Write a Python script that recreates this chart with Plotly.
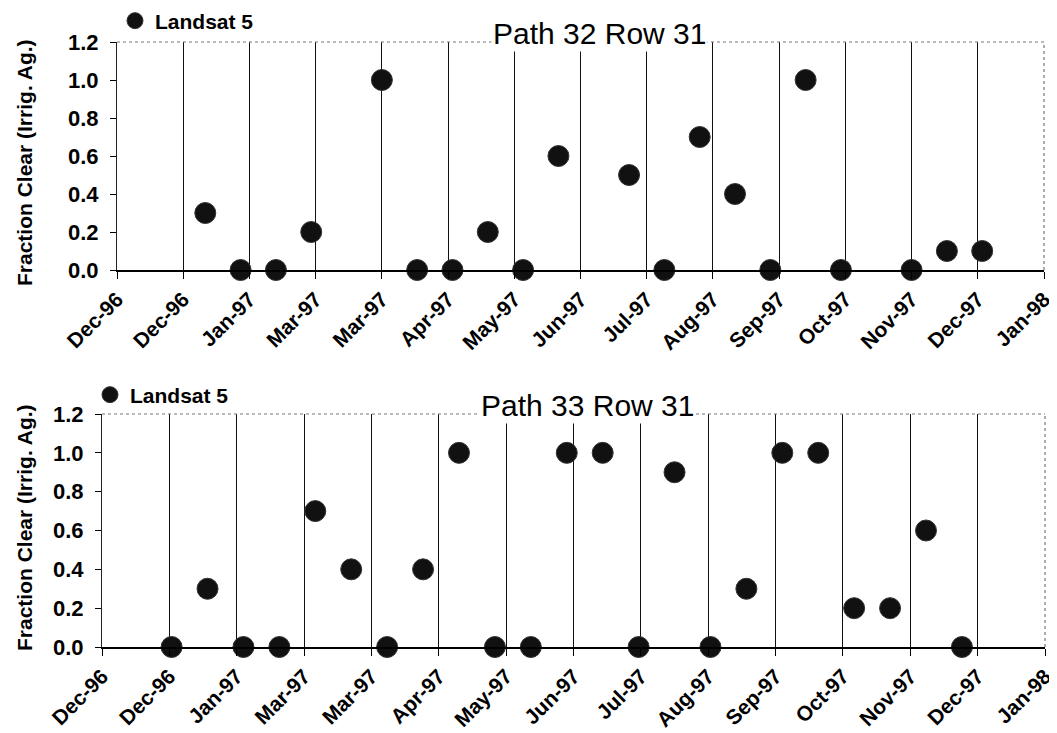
import plotly.graph_objects as go

# ---- data ----
tick_dates = ["1996-12-01", "1996-12-31", "1997-01-30", "1997-03-01", "1997-03-31",
              "1997-04-30", "1997-05-30", "1997-06-29", "1997-07-29", "1997-08-28",
              "1997-09-27", "1997-10-27", "1997-11-26", "1997-12-26", "1998-01-25"]
tick_labels = ["Dec-96", "Dec-96", "Jan-97", "Mar-97", "Mar-97", "Apr-97", "May-97",
               "Jun-97", "Jul-97", "Aug-97", "Sep-97", "Oct-97", "Nov-97", "Dec-97", "Jan-98"]
y_ticks = [0.0, 0.2, 0.4, 0.6, 0.8, 1.0, 1.2]

p32_dates = ["1997-01-10", "1997-01-26", "1997-02-11", "1997-02-27", "1997-03-31",
             "1997-04-16", "1997-05-02", "1997-05-18", "1997-06-03", "1997-06-19",
             "1997-07-21", "1997-08-06", "1997-08-22", "1997-09-07", "1997-09-23",
             "1997-10-09", "1997-10-25", "1997-11-26", "1997-12-12", "1997-12-28"]
p32_frac = [0.3, 0.0, 0.0, 0.2, 1.0, 0.0, 0.0, 0.2, 0.0, 0.6,
            0.5, 0.0, 0.7, 0.4, 0.0, 1.0, 0.0, 0.0, 0.1, 0.1]

p33_dates = ["1997-01-01", "1997-01-17", "1997-02-02", "1997-02-18", "1997-03-06",
             "1997-03-22", "1997-04-07", "1997-04-23", "1997-05-09", "1997-05-25",
             "1997-06-10", "1997-06-26", "1997-07-12", "1997-07-28", "1997-08-13",
             "1997-08-29", "1997-09-14", "1997-09-30", "1997-10-16", "1997-11-01",
             "1997-11-17", "1997-12-03", "1997-12-19"]
p33_frac = [0.0, 0.3, 0.0, 0.0, 0.7, 0.4, 0.0, 0.4, 1.0, 0.0, 0.0, 1.0,
            1.0, 0.0, 0.9, 0.0, 0.3, 1.0, 1.0, 0.2, 0.2, 0.6, 0.0]

titles = ["Path 32 Row 31", "Path 33 Row 31"]
series_name = "Landsat 5"
y_title = "Fraction Clear (Irrig. Ag.)"

# page has an 8px body margin; figure fills the rest of the 1057x733 window
OFF = 8
W, H = 1057 - OFF, 733 - OFF
FONT = "Arial, Liberation Sans, sans-serif"

fig = go.Figure()
marker = dict(size=21, color="#111111", line=dict(width=1, color="#333333"))
fig.add_trace(go.Scatter(x=p32_dates, y=p32_frac, mode="markers", name=series_name,
                         marker=marker, cliponaxis=False, xaxis="x", yaxis="y",
                         legend="legend"))
fig.add_trace(go.Scatter(x=p33_dates, y=p33_frac, mode="markers", name=series_name,
                         marker=marker, cliponaxis=False, xaxis="x2", yaxis="y2",
                         legend="legend2"))

def px_x(v):
    return (v - OFF) / W

def px_y(v):
    return 1 - (v - OFF) / H

# plot areas in window pixels: (left, right, top, bottom)
areas = [(117, 1044, 42, 270), (102, 1045, 414, 647)]

common_x = dict(type="date", range=[tick_dates[0], tick_dates[-1]], automargin=False,
                tickmode="array", tickvals=tick_dates, ticktext=tick_labels,
                tickangle=-45, ticks="outside", ticklen=7, tickcolor="black",
                showline=True, linecolor="black", linewidth=1.5,
                showgrid=True, gridcolor="#111111", gridwidth=1.3,
                zeroline=False,
                tickfont=dict(family=FONT, size=21, color="black", weight="bold"))
common_y = dict(range=[0, 1.2], tickmode="array", tickvals=y_ticks, automargin=False,
                ticktext=[f"{v:.1f}" for v in y_ticks],
                ticks="outside", ticklen=6, tickcolor="black",
                showline=True, linecolor="#222222", linewidth=1.2,
                showgrid=False, zeroline=False, ticklabelstandoff=7,
                tickfont=dict(family=FONT, size=22, color="black", weight="bold"))

(l1, r1, t1, b1), (l2, r2, t2, b2) = areas
fig.update_layout(
    xaxis=dict(common_x, domain=[px_x(l1), px_x(r1)], anchor="y"),
    yaxis=dict(common_y, domain=[px_y(b1), px_y(t1)], anchor="x"),
    xaxis2=dict(common_x, domain=[px_x(l2), px_x(r2)], anchor="y2"),
    yaxis2=dict(common_y, domain=[px_y(b2), px_y(t2)], anchor="x2"),
)

title_x = [0.52, 0.515]
ytitle_center = [163, 528]
shapes = []
annotations = []
for i, (ax, ay) in enumerate([("x", "y"), ("x2", "y2")]):
    # white-out the last gridline, then dotted top and right border
    shapes.append(dict(type="line", xref=f"{ax} domain", yref=f"{ay} domain",
                       x0=1, x1=1, y0=0, y1=1,
                       line=dict(color="white", width=3), layer="above"))
    shapes.append(dict(type="line", xref=f"{ax} domain", yref=f"{ay} domain",
                       x0=0, x1=1, y0=1, y1=1,
                       line=dict(color="#777777", width=1.2, dash="dot"), layer="above"))
    shapes.append(dict(type="line", xref=f"{ax} domain", yref=f"{ay} domain",
                       x0=1, x1=1, y0=0, y1=1,
                       line=dict(color="#777777", width=1.2, dash="dot"), layer="above"))
    # title on white box over top border
    annotations.append(dict(text=titles[i], xref=f"{ax} domain", yref=f"{ay} domain",
                            x=title_x[i], y=1.0, xanchor="center",
                            yanchor="middle", yshift=9, showarrow=False,
                            bgcolor="white", borderpad=1,
                            font=dict(family=FONT, size=30, color="black")))
    # y axis title
    annotations.append(dict(text=y_title, xref="paper", yref="paper",
                            x=px_x(24), y=px_y(ytitle_center[i]),
                            xanchor="center", yanchor="middle",
                            textangle=-90, showarrow=False,
                            font=dict(family=FONT, size=21, color="black", weight="bold")))

legend_common = dict(xanchor="left", yanchor="middle", bgcolor="rgba(0,0,0,0)",
                     borderwidth=0, itemsizing="trace",
                     font=dict(family=FONT, size=21, color="black", weight="bold"))
fig.update_layout(
    legend=dict(legend_common, x=px_x(115), y=px_y(21)),
    legend2=dict(legend_common, x=px_x(90), y=px_y(395)),
    shapes=shapes, annotations=annotations,
    width=W, height=H, margin=dict(l=0, r=0, t=0, b=0, autoexpand=False),
    paper_bgcolor="white", plot_bgcolor="white", showlegend=True,
)

fig.write_html("out.html")
